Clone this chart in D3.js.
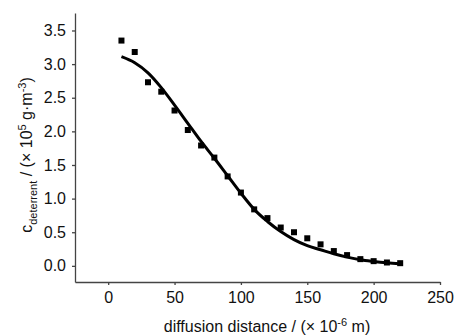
<!DOCTYPE html>
<html>
<head>
<meta charset="utf-8">
<script src="https://cdn.jsdelivr.net/npm/d3@7"></script>
<style>
  body { margin: 0; background: #fff; }
  text { font-family: "Liberation Sans", Arial, sans-serif; fill: #111; }
</style>
</head>
<body>
<div id="chart"></div>
<script>
// measured points (x in 1e-6 m, y in 1e5 g/m^3)
const pointX = [10, 20, 30, 40, 50, 60, 70, 80, 90, 100, 110, 120, 130, 140, 150, 160, 170, 180, 190, 200, 210, 220];
const pointY = [3.35, 3.18, 2.73, 2.59, 2.31, 2.02, 1.79, 1.61, 1.33, 1.09, 0.84, 0.71, 0.57, 0.50, 0.41, 0.32, 0.22, 0.16, 0.10, 0.07, 0.05, 0.04];

// fitted curve
const fitX = [10, 20, 30, 40, 50, 60, 70, 80, 90, 100, 110, 120, 130, 140, 150, 160, 170, 180, 190, 200, 210, 220];
const fitY = [3.11, 3.02, 2.87, 2.65, 2.39, 2.12, 1.85, 1.60, 1.34, 1.08, 0.84, 0.66, 0.51, 0.39, 0.30, 0.24, 0.18, 0.13, 0.09, 0.065, 0.045, 0.03];

const yTicks = [0, 0.5, 1.0, 1.5, 2.0, 2.5, 3.0, 3.5];
const xTicks = [0, 50, 100, 150, 200, 250];

const width = 455, height = 336;

const svg = d3.select('#chart').append('svg')
  .attr('width', width)
  .attr('height', height);

const x = d3.scaleLinear().domain([-25, 250]).range([75, 440]);
const y = d3.scaleLinear().domain([-0.24, 3.76]).range([282, 13]);

// axes
const xAxis = svg.append('g')
  .attr('transform', 'translate(0,282)')
  .call(d3.axisBottom(x).tickValues(xTicks).tickSize(3).tickSizeOuter(0).tickPadding(7));
const yAxis = svg.append('g')
  .attr('transform', 'translate(75,0)')
  .call(d3.axisLeft(y).tickValues(yTicks).tickSize(3).tickSizeOuter(0).tickPadding(6).tickFormat(d3.format('.1f')));

[xAxis, yAxis].forEach(g => {
  g.select('.domain').attr('stroke', '#444').attr('stroke-width', 1.3);
  g.selectAll('.tick line').attr('stroke', '#444').attr('stroke-width', 1.3);
  g.selectAll('.tick text')
    .style('font-family', '"Liberation Sans", Arial, sans-serif')
    .style('font-size', '16px')
    .attr('fill', '#111');
});

// fitted line
const fitData = fitX.map((v, i) => [v, fitY[i]]);
svg.append('path')
  .datum(fitData)
  .attr('fill', 'none')
  .attr('stroke', '#000')
  .attr('stroke-width', 3)
  .attr('d', d3.line().x(d => x(d[0])).y(d => y(d[1])).curve(d3.curveMonotoneX));

// data points
const sz = 6;
svg.selectAll('rect.pt')
  .data(pointX.map((v, i) => [v, pointY[i]]))
  .enter().append('rect')
    .attr('class', 'pt')
    .attr('x', d => x(d[0]) - sz / 2)
    .attr('y', d => y(d[1]) - sz / 2)
    .attr('width', sz)
    .attr('height', sz)
    .attr('fill', '#000');

// x axis title
const xt = svg.append('text')
  .attr('x', 267)
  .attr('y', 332)
  .attr('text-anchor', 'middle')
  .style('font-size', '16px');
xt.append('tspan').text('diffusion distance  / (\u00d7 10');
xt.append('tspan').attr('dy', -6).style('font-size', '11px').text('-6');
xt.append('tspan').attr('dy', 6).text(' m)');

// y axis title
const yt = svg.append('text')
  .attr('transform', 'translate(32,155) rotate(-90)')
  .attr('text-anchor', 'middle')
  .style('font-size', '16px');
yt.append('tspan').text('c');
yt.append('tspan').attr('dy', 5).style('font-size', '11px').text('deterrent');
yt.append('tspan').attr('dy', -5).text(' / (\u00d7 10');
yt.append('tspan').attr('dy', -6).style('font-size', '11px').text('5');
yt.append('tspan').attr('dy', 6).text(' g\u00b7m');
yt.append('tspan').attr('dy', -6).style('font-size', '11px').text('-3');
yt.append('tspan').attr('dy', 6).text(')');
</script>
</body>
</html>
